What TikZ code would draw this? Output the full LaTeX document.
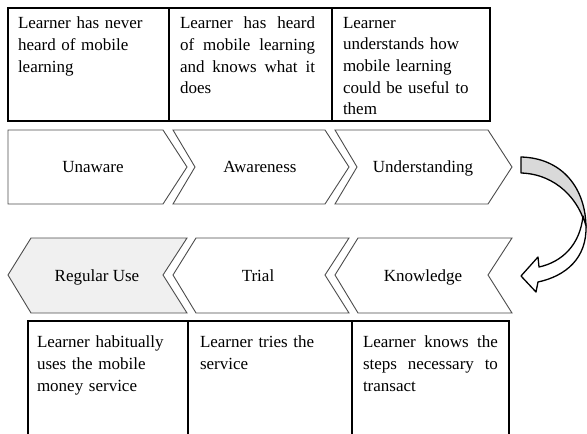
\documentclass[tikz,border=0pt]{standalone}
\usepackage{fontspec}
\setmainfont{Liberation Serif}
\usepackage{tikz}
\usetikzlibrary{arrows,shapes,calc,positioning}
\tikzstyle{cell}  =[anchor=north west, inner sep=0pt, outer sep=0pt,
                    text width=140pt, align=left]
\tikzstyle{jcell} =[cell, text width=135pt, align=justify]
\tikzstyle{stage} =[anchor=base, inner sep=0pt]
\tikzstyle{chev}  =[draw=black!70, line width=0.9pt]
\tikzstyle{tabline}=[draw=black, line width=1.1pt]
\tikzstyle{turnarrow}=[draw=black, line width=1.3pt, line join=round]

\begin{document}
\begin{tikzpicture}[x=1pt, y=-1pt,
            every node/.style={font=\fontsize{17}{21.7}\selectfont}]
                \useasboundingbox (0,0) rectangle (587,434);
                \draw[tabline] (8,8) rectangle (490,121);
                \draw[tabline] (169,8) -- (169,121) (332,8) -- (332,121);
                \draw[tabline] (28,434) -- (28,321) -- (509,321) -- (509,434);
                \draw[tabline] (188,321) -- (188,434) (352,321) -- (352,434);

                \draw[chev] (8,130) -- (163,130) -- (187,167) -- (163,204) -- (8,204) -- cycle;
                \foreach \l/\r in {173/325,335/488}{
                    \draw[chev] (\l,130) -- (\r,130) -- (\r+24,167) -- (\r,204)
                        -- (\l,204) -- (\l+22,167) -- cycle;
                }
                \foreach \t/\n/\f in {8/163/gray!12,173/325/white,335/488/white}{
                    \draw[chev, fill=\f] (\t+23,238) -- (\n+24,238) -- (\n,275)
                        -- (\n+24,313) -- (\t+23,313) -- (\t,275) -- cycle;
                }

                \filldraw[turnarrow, fill=gray!30] (521,157) .. controls (562,158) and (586,188) .. (586,228)
                    .. controls (580,200) and (556,174) .. (521,173) -- cycle;
                \filldraw[turnarrow, fill=white] (586,226) .. controls (587,258) and (566,276) .. (538,282)
                    -- (536,292) -- (521,276) -- (538,257) -- (539,267)
                    .. controls (562,262) and (580,245) .. (583,216) -- cycle;

                \node[stage] (unaware) at (93,172) {Unaware};
                \node[stage] (awareness) at (260,172) {Awareness};
                \node[stage] (understanding) at (423,172) {Understanding};
                \node[stage] (regular) at (97,281) {Regular Use};
                \node[stage] (trial) at (258,281) {Trial};
                \node[stage] (knowledge) at (423,281) {Knowledge};

                \node[cell] (never) at (18,17) {Learner has never\\heard of mobile\\learning};
                \node[jcell] (heard) at (180,17) {Learner has heard\linebreak of mobile learning\linebreak and knows what it\linebreak does};
                \node[cell] (useful) at (343,17) {Learner\\understands how\\mobile learning\\could be useful to\\them};
                \node[cell] (habit) at (37,336) {Learner habitually\\uses the mobile\\money service};
                \node[cell] (tries) at (200,336) {Learner tries the\\service};
                \node[jcell] (steps) at (363,336) {Learner knows the\linebreak steps necessary to\linebreak transact};
        \end{tikzpicture}
\end{document}
